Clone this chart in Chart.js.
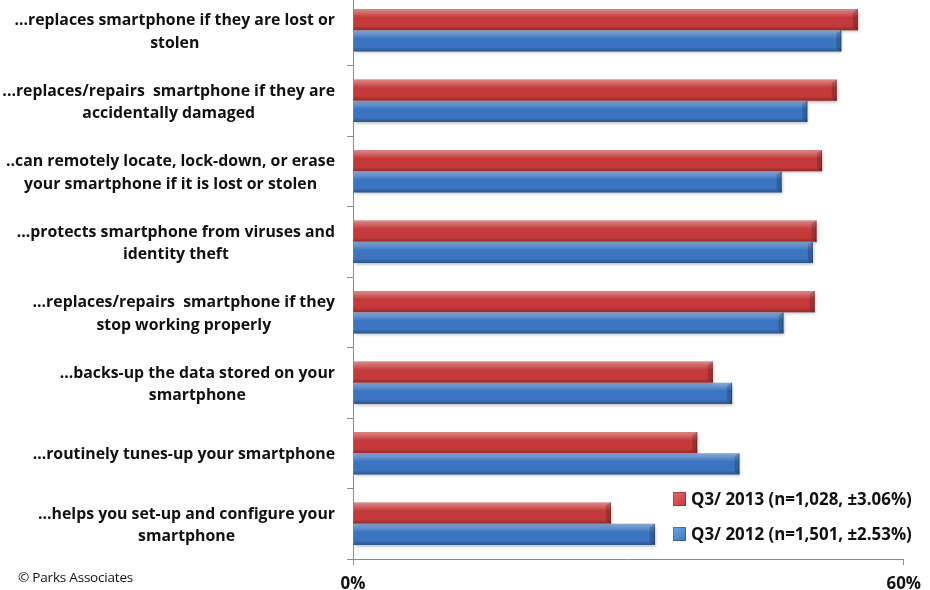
<!DOCTYPE html>
<html>
<head>
<meta charset="utf-8">
<script src="https://cdn.jsdelivr.net/npm/chart.js@4.4.1/dist/chart.umd.min.js"></script>
<style>
  html, body { margin: 0; padding: 0; background: #fff; width: 930px; height: 590px; overflow: hidden; }
  #wrap { position: absolute; left: 0; top: -5px; width: 930px; height: 595px; }
  #copy { position: absolute; left: 18px; top: 568px; font: 13.5px "Open Sans", sans-serif; color: #111; letter-spacing: -0.2px; }
</style>
</head>
<body>
<div id="wrap"><canvas id="c" width="930" height="595"></canvas></div>
<div id="copy">© Parks Associates</div>
<script>
const categories = [
  ["...replaces smartphone if they are lost or", "stolen"],
  ["...replaces/repairs  smartphone if they are", "accidentally damaged"],
  ["..can remotely locate, lock-down, or erase", "your smartphone if it is lost or stolen"],
  ["...protects smartphone from viruses and", "identity theft"],
  ["...replaces/repairs  smartphone if they", "stop working properly"],
  ["...backs-up the data stored on your", "smartphone"],
  ["...routinely tunes-up your smartphone"],
  ["...helps you set-up and configure your", "smartphone"]
];
const series2013Label = "Q3/ 2013 (n=1,028, ±3.06%)";
const series2012Label = "Q3/ 2012 (n=1,501, ±2.53%)";
const values2013 = [55.0, 52.7, 51.1, 50.5, 50.3, 39.2, 37.5, 28.1];
const values2012 = [53.2, 49.5, 46.7, 50.1, 46.9, 41.3, 42.1, 32.9];
const xTicks = [0, 60];

const RED = '#C43A3A', BLUE = '#3B74C0';
const FONT = '"Open Sans", Lato, sans-serif';

const mctx = document.createElement('canvas').getContext('2d');
function fitSize(texts, target) {
  mctx.font = 'bold 20px ' + FONT;
  const w = Math.max(...texts.map(t => mctx.measureText(t).width));
  return 20 * target / w;
}
const labelSize = fitSize(categories.flat(), 333);
const legendSize = fitSize([series2013Label, series2012Label], 221);

const labelPlugin = {
  id: 'catLabels',
  afterDraw(chart) {
    const ctx = chart.ctx, y = chart.scales.y;
    ctx.save();
    ctx.font = 'bold ' + labelSize + 'px ' + FONT;
    ctx.fillStyle = '#111';
    ctx.textAlign = 'center';
    ctx.textBaseline = 'middle';
    const rightEdge = 335, lh = 22.5;
    categories.forEach((lines, i) => {
      const blockW = Math.max(...lines.map(l => ctx.measureText(l).width));
      const cx = rightEdge - blockW / 2;
      const cy = y.getPixelForTick(i) + 1.5;
      lines.forEach((l, k) => {
        ctx.fillText(l, cx, cy + (k - (lines.length - 1) / 2) * lh);
      });
    });
    const items = chart.data.datasets;
    const lx = 673, ly = [504, 539];
    ctx.textAlign = 'left';
    items.forEach((ds, i) => {
      const g = ctx.createLinearGradient(lx, ly[i] - 7, lx + 13, ly[i] + 7);
      g.addColorStop(0, i === 0 ? '#E56A6A' : '#6FA6E6');
      g.addColorStop(1, ds.backgroundColor);
      ctx.fillStyle = g;
      ctx.fillRect(lx, ly[i] - 7, 13, 14);
      ctx.strokeStyle = 'rgba(0,0,0,0.25)';
      ctx.lineWidth = 1;
      ctx.strokeRect(lx + 0.5, ly[i] - 6.5, 12, 13);
      ctx.fillStyle = '#111';
      ctx.font = 'bold ' + legendSize + 'px ' + FONT;
      ctx.fillText(ds.label, lx + 18, ly[i] + 1);
    });
    ctx.restore();
  }
};

const shinePlugin = {
  id: 'shine',
  beforeDatasetsDraw(chart) {
    const ctx = chart.ctx;
    ctx.save();
    ctx.shadowColor = 'rgba(0,0,0,0.28)';
    ctx.shadowOffsetX = 1;
    ctx.shadowOffsetY = 2;
    ctx.shadowBlur = 3;
  },
  afterDatasetsDraw(chart) {
    const ctx = chart.ctx;
    ctx.restore();
    ctx.save();
    chart.data.datasets.forEach((ds, di) => {
      const meta = chart.getDatasetMeta(di);
      meta.data.forEach(el => {
        const top = el.y - el.height / 2, bot = el.y + el.height / 2;
        const left = Math.min(el.base, el.x), right = Math.max(el.base, el.x);
        const g = ctx.createLinearGradient(0, top, 0, bot);
        g.addColorStop(0, 'rgba(255,255,255,0.40)');
        g.addColorStop(0.18, 'rgba(255,255,255,0.22)');
        g.addColorStop(0.4, 'rgba(255,255,255,0.0)');
        g.addColorStop(0.8, 'rgba(0,0,0,0.0)');
        g.addColorStop(1, 'rgba(0,0,0,0.28)');
        ctx.fillStyle = g;
        ctx.fillRect(left, top, right - left, bot - top);
        ctx.fillStyle = 'rgba(0,0,0,0.18)';
        ctx.beginPath();
        ctx.moveTo(right - 5, top + 3);
        ctx.lineTo(right, top);
        ctx.lineTo(right, bot);
        ctx.lineTo(right - 5, bot - 3);
        ctx.closePath();
        ctx.fill();
        ctx.strokeStyle = 'rgba(0,0,0,0.25)';
        ctx.lineWidth = 1;
        ctx.beginPath();
        ctx.moveTo(right - 0.5, top);
        ctx.lineTo(right - 0.5, bot);
        ctx.stroke();
      });
    });
    ctx.restore();
  }
};

new Chart(document.getElementById('c'), {
  type: 'bar',
  data: {
    labels: categories,
    datasets: [
      { label: series2013Label, data: values2013, backgroundColor: RED, borderWidth: 0,
        categoryPercentage: 0.6, barPercentage: 1.0 },
      { label: series2012Label, data: values2012, backgroundColor: BLUE, borderWidth: 0,
        categoryPercentage: 0.6, barPercentage: 1.0 }
    ]
  },
  options: {
    indexAxis: 'y',
    responsive: false,
    animation: false,
    layout: { padding: { left: 0, right: 24, top: 0, bottom: 0 } },
    plugins: { legend: { display: false }, tooltip: { enabled: false } },
    scales: {
      y: {
        afterFit(s) { s.width = 353; },
        ticks: { display: false },
        grid: { offset: true, drawOnChartArea: false, drawTicks: true, tickLength: 6, color: '#8c8c8c' },
        border: { display: true, color: '#8c8c8c', width: 1 }
      },
      x: {
        min: xTicks[0], max: xTicks[xTicks.length - 1],
        afterFit(s) { s.height = 31; },
        afterBuildTicks(s) { s.ticks = xTicks.map(v => ({ value: v })); },
        ticks: { padding: 9, color: '#111', font: { family: FONT, size: legendSize, weight: 'bold' },
                 callback: v => v + '%', maxRotation: 0 },
        grid: { drawOnChartArea: false, drawTicks: true, tickLength: 6, color: '#8c8c8c' },
        border: { display: true, color: '#8c8c8c', width: 1 }
      }
    }
  },
  plugins: [shinePlugin, labelPlugin]
});
</script>
</body>
</html>
